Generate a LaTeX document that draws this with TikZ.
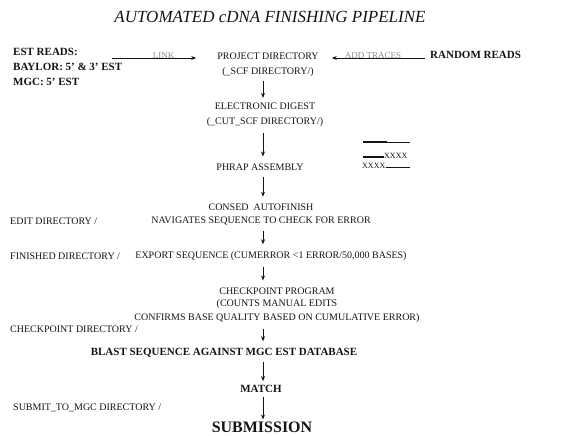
\documentclass[tikz,border=0pt]{standalone}
\usepackage{fontspec}
\setmainfont{Liberation Serif}
\usepackage{tikz}
\usetikzlibrary{positioning,arrows.meta,calc}
\definecolor{pgInk}{HTML}{141414}
\definecolor{pgGray}{HTML}{8C8C8C}
\tikzset{
  pg-text/.style={font=\fontsize{10}{15}\selectfont, text=pgInk,
    inner sep=2pt, align=center},
  pg-bold/.style={pg-text, font=\fontsize{11}{15}\selectfont\bfseries},
  pg-dir/.style={pg-text, anchor=west, align=left},
  pg-flow/.style={-{Stealth[length=5pt,width=4pt]}, line width=0.7pt,
    draw=pgInk, shorten <=4pt, shorten >=5pt},
  pg-label/.style={font=\fontsize{9}{10}\selectfont, text=pgGray,
    inner sep=0pt, above, yshift=-1pt},
  pg-title/.style={font=\fontsize{17}{20}\selectfont\itshape, text=pgInk}
}
\begin{document}
\begin{tikzpicture}[x=1pt, y=-1pt]
\useasboundingbox (0,0) rectangle (581,436);
\coordinate (spine) at (263,0);

% Title
\node[pg-title] (title) at (270,17) {AUTOMATED cDNA FINISHING PIPELINE};

% Inputs
\node[pg-bold, anchor=west, align=left] (est) at (11,67)
  {EST READS:\\ BAYLOR: 5' \& 3' EST\\ MGC: 5' EST};
\node[pg-bold, anchor=west] (random) at (428,55) {RANDOM READS};

% Main steps
\node[pg-text] (proj) at (268,64.5) {PROJECT DIRECTORY\\ (\_SCF DIRECTORY/)};
\node[pg-text] (digest) at (265,115) {ELECTRONIC DIGEST\\ (\_CUT\_SCF DIRECTORY/)};
\node[pg-text] (phrap) at (260,167) {PHRAP ASSEMBLY};
\node[pg-text, font=\fontsize{10}{13}\selectfont] (consed) at (261,214.5)
  {CONSED\ \ AUTOFINISH\\ NAVIGATES SEQUENCE TO CHECK FOR ERROR};
\node[pg-text] (export) at (271,256)
  {EXPORT SEQUENCE (CUMERROR <1 ERROR/50,000 BASES)};
\node[pg-text, font=\fontsize{10}{12}\selectfont] (check) at (277,305)
  {CHECKPOINT PROGRAM\\ (COUNTS MANUAL EDITS\\[2pt]
   CONFIRMS BASE QUALITY BASED ON CUMULATIVE ERROR)};
\node[pg-bold] (blast) at (224,353) {BLAST SEQUENCE AGAINST MGC EST DATABASE};
\node[pg-bold] (match) at (261,389) {MATCH};
\node[pg-bold, font=\fontsize{16}{20}\selectfont\bfseries] (submit) at (262,427)
  {SUBMISSION};

% Directories
\node[pg-dir] (editdir) at (8,221) {EDIT DIRECTORY /};
\node[pg-dir] (findir) at (8,256) {FINISHED DIRECTORY /};
\node[pg-dir] (ckdir) at (8,329) {CHECKPOINT DIRECTORY /};
\node[pg-dir] (mgcdir) at (11,408) {SUBMIT\_TO\_MGC DIRECTORY /};

% Reads legend
\draw[line width=1.4pt, pgInk] (363,142) coordinate (keyA) -- (387,142);
\draw[line width=0.8pt, pgInk] (387,142) -- (410,142);
\draw[line width=1.4pt, pgInk] (363,157) coordinate (keyB) -- (384,157);
\node[font=\fontsize{8}{9}\selectfont, text=pgInk, inner sep=0pt, anchor=west]
  (keyBx) at (384,156) {XXXX};
\node[font=\fontsize{8}{9}\selectfont, text=pgInk, inner sep=0pt, anchor=west]
  (keyCx) at (362,166) {XXXX};
\draw[line width=1pt, pgInk] (keyCx.east |- 0,167) -- (410,167);

% Flow
\coordinate (linkS) at (112,58);
\coordinate (addS) at (425,58);
\draw[pg-flow, shorten <=0pt, shorten >=19pt] (linkS) -- node[pg-label] {LINK} (linkS -| proj.west);
\draw[pg-flow, shorten <=0pt, shorten >=11pt] (addS) -- node[pg-label] {ADD TRACES} (addS -| proj.east);
\draw[pg-flow, shorten <=2pt, shorten >=3pt] (proj.south -| spine) -- (digest.north -| spine);
\draw[pg-flow] (digest.south -| spine) -- (phrap.north -| spine);
\draw[pg-flow] (phrap.south -| spine) -- (consed.north -| spine);
\draw[pg-flow] (consed.south -| spine) -- (export.north -| spine);
\draw[pg-flow] (export.south -| spine) -- (check.north -| spine);
\draw[pg-flow] (check.south -| spine) -- (blast.north -| spine);
\draw[pg-flow, shorten <=2pt, shorten >=2pt] (blast.south -| spine) -- (match.north -| spine);
\draw[pg-flow, shorten <=2pt, shorten >=0pt] (match.south -| spine) -- (submit.north -| spine);
\end{tikzpicture}
\end{document}
